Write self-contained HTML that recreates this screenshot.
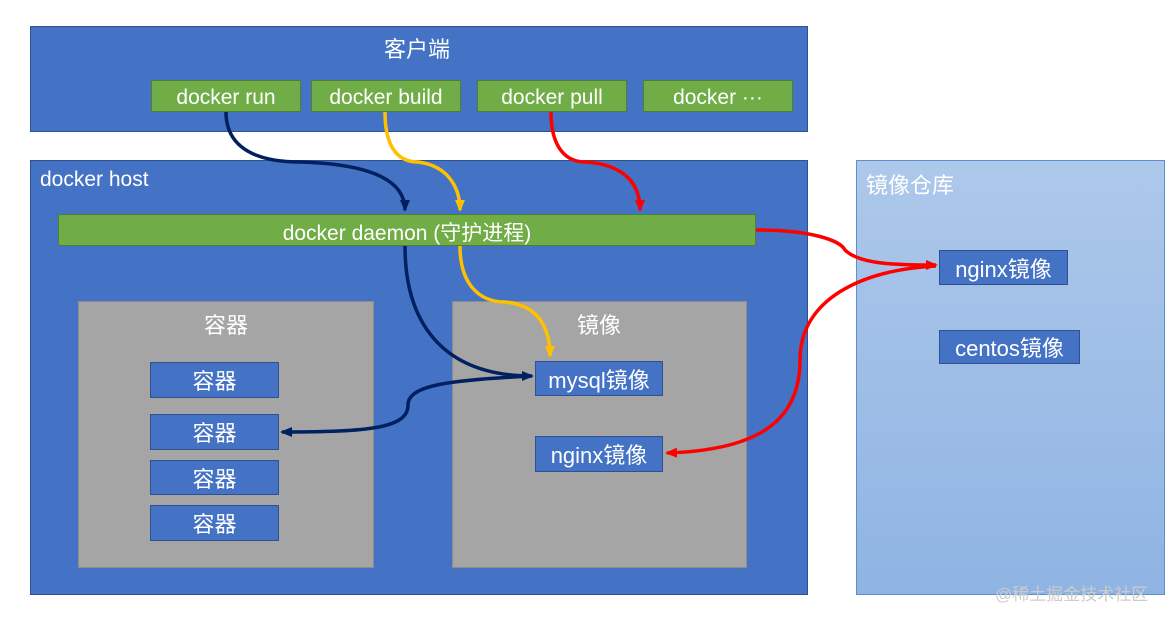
<!DOCTYPE html>
<html><head><meta charset="utf-8"><style>
body{margin:0;width:1174px;height:620px;background:#fff;position:relative;overflow:hidden;font-family:"Liberation Sans","Noto Sans CJK SC",sans-serif;}
.a{position:absolute;box-sizing:border-box;color:#fff;}
.blue{background:#4472c4;border:1px solid #2f528f;}
.green{background:#70ad47;border:1px solid #507e32;display:flex;align-items:center;justify-content:center;font-size:21px;padding-top:3px;}
.gray{background:#a5a5a5;border:1px solid #8c8c8c;}
.nb{background:#4472c4;border:1px solid #2f528f;display:flex;align-items:center;justify-content:center;font-size:22px;}
.t{position:absolute;font-size:22px;color:#fff;white-space:nowrap;}
</style></head><body>
<div class="a blue" style="left:30px;top:26px;width:778px;height:106px"></div>
<div class="t" style="left:384px;top:32px">客户端</div>
<div class="a green" style="left:151px;top:80px;width:150px;height:32px">docker run</div>
<div class="a green" style="left:311px;top:80px;width:150px;height:32px">docker build</div>
<div class="a green" style="left:477px;top:80px;width:150px;height:32px">docker pull</div>
<div class="a green" style="left:643px;top:80px;width:150px;height:32px">docker ···</div>

<div class="a blue" style="left:30px;top:160px;width:778px;height:435px"></div>
<div class="t" style="left:40px;top:168px;font-size:21px">docker host</div>
<div class="a green" style="left:58px;top:214px;width:698px;height:32px">docker daemon (守护进程)</div>

<div class="a gray" style="left:78px;top:301px;width:296px;height:267px"></div>
<div class="t" style="left:204px;top:308px">容器</div>
<div class="a nb" style="left:150px;top:362px;width:129px;height:36px">容器</div>
<div class="a nb" style="left:150px;top:414px;width:129px;height:36px">容器</div>
<div class="a nb" style="left:150px;top:460px;width:129px;height:35px">容器</div>
<div class="a nb" style="left:150px;top:505px;width:129px;height:36px">容器</div>

<div class="a gray" style="left:452px;top:301px;width:295px;height:267px"></div>
<div class="t" style="left:577px;top:308px">镜像</div>
<div class="a nb" style="left:535px;top:361px;width:128px;height:35px">mysql镜像</div>
<div class="a nb" style="left:535px;top:436px;width:128px;height:36px">nginx镜像</div>

<div class="a" style="left:856px;top:160px;width:309px;height:435px;background:linear-gradient(#adc8ea,#8fb4e3);border:1px solid #5b8fd0"></div>
<div class="t" style="left:866px;top:168px">镜像仓库</div>
<div class="a nb" style="left:939px;top:250px;width:129px;height:35px">nginx镜像</div>
<div class="a nb" style="left:939px;top:330px;width:141px;height:34px">centos镜像</div>

<div class="t" style="left:995px;top:580px;font-size:17px;color:#ccc">@稀土掘金技术社区</div>

<svg width="1174" height="620" style="position:absolute;left:0;top:0" fill="none" stroke-width="3.5">
<defs>
<marker id="mn" markerWidth="12" markerHeight="10" refX="10" refY="5" orient="auto" markerUnits="userSpaceOnUse"><path d="M0,0L12,5L0,10z" fill="#002060" stroke="none"/></marker>
<marker id="my" markerWidth="12" markerHeight="10" refX="10" refY="5" orient="auto" markerUnits="userSpaceOnUse"><path d="M0,0L12,5L0,10z" fill="#ffc000" stroke="none"/></marker>
<marker id="mr" markerWidth="12" markerHeight="10" refX="10" refY="5" orient="auto" markerUnits="userSpaceOnUse"><path d="M0,0L12,5L0,10z" fill="#ff0000" stroke="none"/></marker>
</defs>
<path d="M226,112 C226,150 260,162 300,162 C370,164 405,180 405,210" stroke="#002060" marker-end="url(#mn)"/>
<path d="M385,112 C385,150 400,162 418,162 C450,166 460,190 460,210" stroke="#ffc000" marker-end="url(#my)"/>
<path d="M551,112 C551,150 568,162 585,162 C620,164 640,180 640,210" stroke="#ff0000" marker-end="url(#mr)"/>
<path d="M405,246 C405,320 440,376 532,376" stroke="#002060" marker-end="url(#mn)"/>
<path d="M460,246 C460,285 480,302 505,302 C540,305 550,330 550,356" stroke="#ffc000" marker-end="url(#my)"/>
<path d="M532,376 C450,380 408,385 408,405 C408,428 370,432 282,432" stroke="#002060" marker-end="url(#mn)"/>
<path d="M756,230 C810,230 840,240 845,250 C860,265 900,265 936,265" stroke="#ff0000" marker-end="url(#mr)"/>
<path d="M936,266 C860,270 800,300 800,360 C800,420 760,450 667,453" stroke="#ff0000" marker-end="url(#mr)"/>
</svg>
</body></html>
